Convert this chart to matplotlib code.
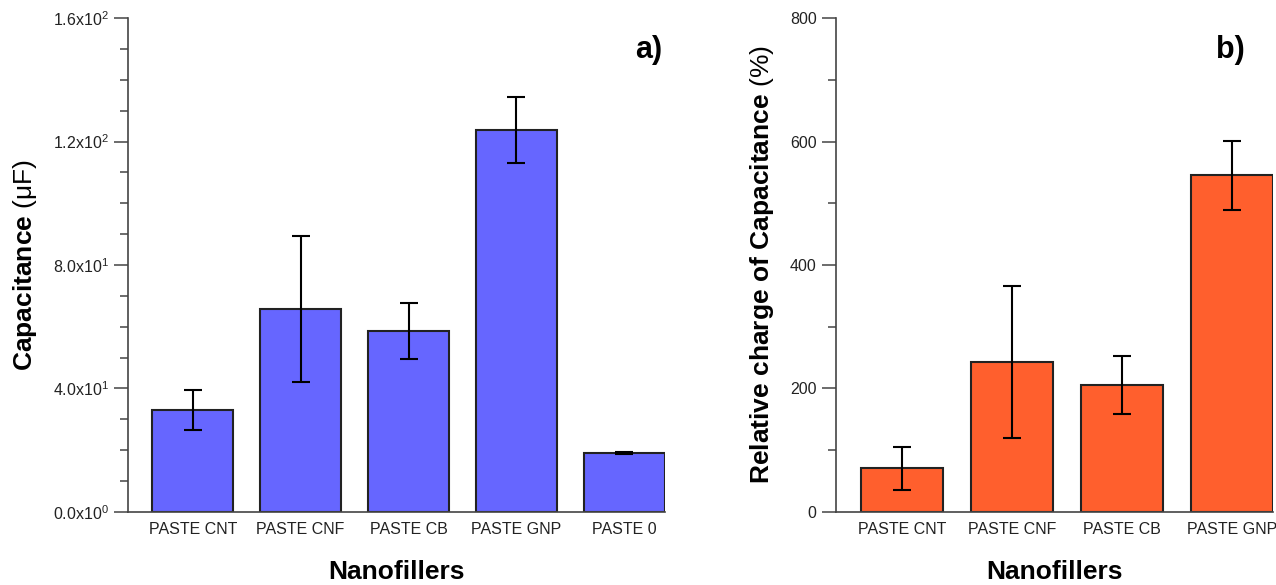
import matplotlib
matplotlib.use('Agg')
import matplotlib.pyplot as plt
from matplotlib.ticker import MultipleLocator, FixedLocator

plt.rcParams['font.family'] = ['Liberation Sans', 'DejaVu Sans']
plt.rcParams['mathtext.fontset'] = 'custom'
plt.rcParams['mathtext.rm'] = 'Liberation Sans'
plt.rcParams['mathtext.bf'] = 'Liberation Sans:bold'
plt.rcParams['mathtext.it'] = 'Liberation Sans:italic'

# Dados - painel a)
categorias_a = ['PASTE CNT', 'PASTE CNF', 'PASTE CB', 'PASTE GNP', 'PASTE 0']
capacitancia = [33.0, 65.7, 58.6, 123.7, 19.1]
erro_cap = [6.6, 23.6, 9.0, 10.8, 0.4]

# Dados - painel b)
categorias_b = ['PASTE CNT', 'PASTE CNF', 'PASTE CB', 'PASTE GNP']
variacao = [71, 243, 206, 545]
erro_var = [35, 123, 47, 56]

ticks_a = [0, 40, 80, 120, 160]
rotulos_a = [r'$\mathregular{0.0x10^{0}}$', r'$\mathregular{4.0x10^{1}}$',
             r'$\mathregular{8.0x10^{1}}$', r'$\mathregular{1.2x10^{2}}$',
             r'$\mathregular{1.6x10^{2}}$']

fig = plt.figure(figsize=(12.76, 5.85), dpi=100)
ax1 = fig.add_axes([0.1003, 0.1248, 0.4207, 0.8444])
ax2 = fig.add_axes([0.6552, 0.1248, 0.3425, 0.8444])

def estilo(ax):
    for s in ['top', 'right']:
        ax.spines[s].set_visible(False)
    for s in ['left', 'bottom']:
        ax.spines[s].set_color('#444444')
        ax.spines[s].set_linewidth(1.2)
    ax.tick_params(axis='x', length=0, labelsize=11.5, colors='#222222', pad=7)
    ax.tick_params(axis='y', which='major', length=10, width=1.1, color='#444444',
                   labelsize=11.5, labelcolor='#222222', pad=4)
    ax.tick_params(axis='y', which='minor', length=5.5, width=1.1, color='#444444')

# Painel a)
x_a = range(len(categorias_a))
ax1.bar(x_a, capacitancia, width=0.75, color='#6666FF', edgecolor='#222222',
        linewidth=1.5, zorder=2)
ax1.errorbar(x_a, capacitancia, yerr=erro_cap, fmt='none', ecolor='black',
             elinewidth=1.5, capsize=6.5, capthick=1.5, zorder=3)
ax1.set_xlim(-0.6, len(categorias_a) - 1 + 0.375)
ax1.set_ylim(0, 160)
ax1.set_xticks(list(x_a))
ax1.set_xticklabels(categorias_a)
ax1.yaxis.set_major_locator(FixedLocator(ticks_a))
ax1.set_yticklabels(rotulos_a)
ax1.yaxis.set_minor_locator(MultipleLocator(10))
estilo(ax1)
ax1.set_xlabel('Nanofillers', fontsize=19, fontweight='bold', labelpad=17)
ax1.set_ylabel(r'$\mathbf{Capacitance}$ (μF)', fontsize=19, labelpad=10)
ax1.text(0.995, 0.965, 'a)', transform=ax1.transAxes, fontsize=22,
         fontweight='bold', ha='right', va='top')

# Painel b)
x_b = range(len(categorias_b))
ax2.bar(x_b, variacao, width=0.75, color='#FF5F2D', edgecolor='#222222',
        linewidth=1.5, zorder=2)
ax2.errorbar(x_b, variacao, yerr=erro_var, fmt='none', ecolor='black',
             elinewidth=1.5, capsize=6.5, capthick=1.5, zorder=3)
ax2.set_xlim(-0.6, len(categorias_b) - 1 + 0.375)
ax2.set_ylim(0, 800)
ax2.set_xticks(list(x_b))
ax2.set_xticklabels(categorias_b)
ax2.yaxis.set_major_locator(MultipleLocator(200))
ax2.yaxis.set_minor_locator(MultipleLocator(100))
estilo(ax2)
ax2.set_xlabel('Nanofillers', fontsize=19, fontweight='bold', labelpad=17)
ax2.set_ylabel(r'$\mathbf{Relative\ charge\ of\ Capacitance}$ (%)', fontsize=19, labelpad=10)
ax2.text(0.935, 0.965, 'b)', transform=ax2.transAxes, fontsize=22,
         fontweight='bold', ha='right', va='top')

fig.savefig('out.png', dpi=100)
